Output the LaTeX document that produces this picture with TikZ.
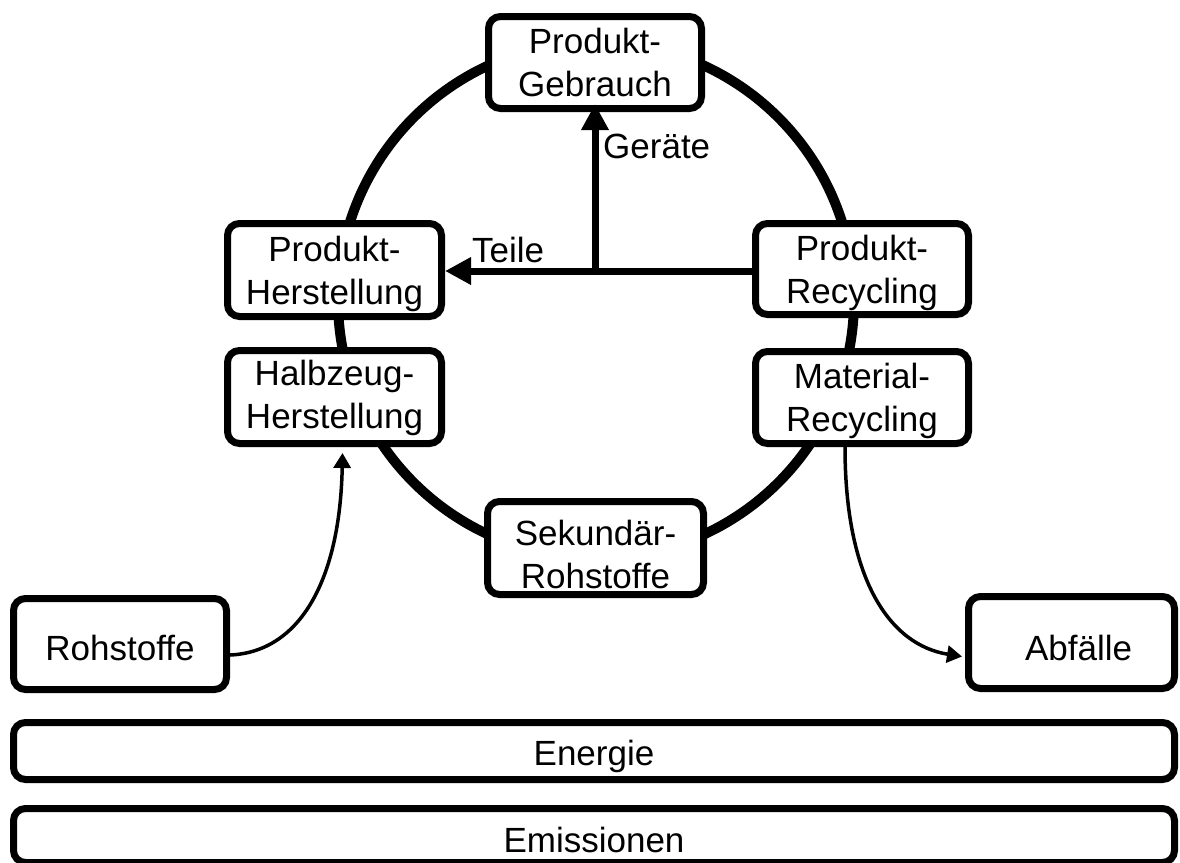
\documentclass[tikz,border=0pt]{standalone}
\usepackage{fontspec}
\setmainfont{Liberation Sans}
\usetikzlibrary{arrows.meta}
\begin{document}
\begin{tikzpicture}[x=1pt,y=-1pt,
  stage/.style={draw, line width=7pt, rounded corners=12pt, fill=white,
    align=center, inner sep=0pt, text depth=0pt, font=\fontsize{35}{43}\selectfont},
  ring/.style={line width=10pt},
  flow/.style={line width=7pt, -{Triangle[length=26pt,width=26pt]}},
  feed/.style={line width=3.5pt, -{Triangle[length=15pt,width=17pt]}},
  tag/.style={inner sep=0pt, font=\fontsize{35}{43}\selectfont}]
\useasboundingbox (0,0) rectangle (1180,862);

% material cycle
\draw[ring] (596,300) circle[radius=258pt];

% stations on the cycle
\node[stage, minimum width=213pt, minimum height=92pt] (gebrauch) at (595,62.5) {Produkt-\\Gebrauch};
\node[stage, minimum width=214pt, minimum height=93pt] (pherst) at (334.5,270) {Produkt-\\Herstellung};
\node[stage, minimum width=214pt, minimum height=93pt, text height=62pt] (halb) at (334.5,397) {Halbzeug-\\Herstellung};
\node[stage, minimum width=213pt, minimum height=91pt] (precyc) at (862,269) {Produkt-\\Recycling};
\node[stage, minimum width=213pt, minimum height=92pt] (mrecyc) at (862,397.5) {Material-\\Recycling};
\node[stage, minimum width=216pt, minimum height=93pt, text height=80pt] (sek) at (595.5,548) {Sekundär-\\Rohstoffe};

% inputs and outputs
\node[stage, minimum width=213pt, minimum height=91pt, text height=32pt] (roh) at (120,644) {Rohstoffe};
\node[stage, minimum width=206pt, minimum height=92pt, text height=35pt] (abf) at (1071.5,642.5) {\hspace*{14pt}Abfälle};
\node[stage, minimum width=1161pt, minimum height=57pt, text height=28pt] (energie) at (594,751) {Energie};
\node[stage, minimum width=1161pt, minimum height=54pt, text height=33pt] (emis) at (594,835.5) {Emissionen};

% reuse of parts and devices
\coordinate (recout) at ([yshift=-2pt]precyc.west);
\coordinate (junc) at (gebrauch.south |- recout);
\coordinate (gebrin) at ([yshift=8pt]gebrauch.south);
\draw[flow] (recout) -- (pherst.east |- recout);
\draw[flow] (junc) -- (gebrin);
\node[tag, anchor=base west] (teile) at (472,262) {Teile};
\node[tag, anchor=base west] (geraete) at (603,158) {Geräte};

% raw material in, waste out
\coordinate (rohout) at ([yshift=-11pt]roh.east);
\coordinate (halbin) at ([xshift=8pt,yshift=-6pt]halb.south);
\draw[feed] (rohout) .. controls (300,652) and (340,580) .. (halbin);
\coordinate (mout) at ([xshift=-17pt]mrecyc.south);
\coordinate (abfin) at ([xshift=-3pt,yshift=-14pt]abf.west);
\draw[feed] (mout) .. controls (845,580) and (890,645) .. (abfin);
\end{tikzpicture}
\end{document}
